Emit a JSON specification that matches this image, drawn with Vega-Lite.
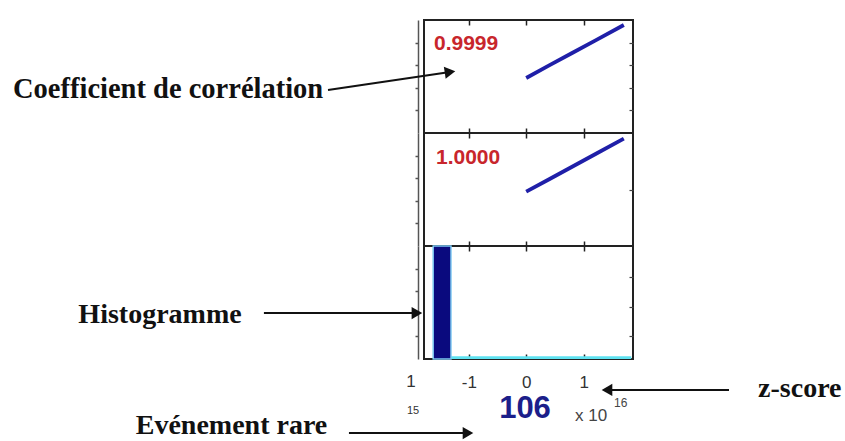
{
  "$schema": "https://vega.github.io/schema/vega-lite/v6.json",
  "padding": 0,
  "background": "white",
  "spacing": 0,
  "bounds": "flush",
  "config": {
    "view": {"stroke": "#222", "strokeWidth": 2},
    "axis": {"grid": false, "title": null}
  },
  "datasets": {
    "corr1": [{"z": 0, "r": 0.487}, {"z": 0.4, "r": 0.598}, {"z": 0.8, "r": 0.708}, {"z": 1.2, "r": 0.818}, {"z": 1.7, "r": 0.956}],
    "corr2": [{"z": 0, "r": 0.481}, {"z": 0.4, "r": 0.591}, {"z": 0.8, "r": 0.701}, {"z": 1.2, "r": 0.812}, {"z": 1.7, "r": 0.95}],
    "hist": [
      {"series": "rare", "bin_start": -1.62, "bin_end": -1.31, "count": 1},
      {"series": "normal", "bin_start": -1.31, "bin_end": 1.83, "count": 0.025}
    ],
    "one": [{}]
  },
  "vconcat": [
    {
      "width": 209,
      "height": 113,
      "layer": [
        {
          "data": {"name": "one"},
          "mark": {"type": "rule", "stroke": "#ffffff", "strokeOpacity": 0},
          "encoding": {
            "x": {"datum": -9.147, "type": "quantitative", "axis": null},
            "x2": {"datum": 5.569},
            "y": {"datum": 1.168, "type": "quantitative", "axis": null},
            "y2": {"datum": -2.735}
          }
        },
        {
          "data": {"name": "corr1"},
          "mark": {"type": "line", "color": "#1f1fa8", "strokeWidth": 3.8},
          "encoding": {
            "x": {"field": "z", "type": "quantitative", "scale": {"domain": [-1.78, 1.86], "nice": false, "zero": false},
              "axis": {"orient": "bottom", "values": [-1, 0, 1], "labels": false, "domain": false, "tickSize": -5, "tickColor": "#222", "tickWidth": 1.5}},
            "y": {"field": "r", "type": "quantitative", "scale": {"domain": [0, 1], "nice": false},
              "axis": {"orient": "left", "offset": 6, "values": [0.2, 0.4, 0.6, 0.8], "labels": false, "domain": true, "domainColor": "#555", "domainWidth": 1.5, "tickSize": 3, "tickColor": "#555", "tickWidth": 1.5}}
          }
        },
        {
          "data": {"name": "one"},
          "mark": {"type": "text", "text": "0.9999", "color": "#c8262c", "font": "Liberation Sans", "fontSize": 21, "fontWeight": "bold", "align": "left", "baseline": "middle"},
          "encoding": {
            "x": {"datum": -1.606, "type": "quantitative",
              "axis": {"orient": "top", "values": [-1, 0, 1], "labels": false, "domain": false, "tickSize": -5, "tickColor": "#222", "tickWidth": 1.5}},
            "y": {"datum": 0.792, "type": "quantitative",
              "axis": {"orient": "right", "values": [0.2, 0.4, 0.6, 0.8], "labels": false, "domain": false, "tickSize": -4, "tickColor": "#444", "tickWidth": 1.2}}
          }
        },
        {
          "data": {"name": "one"},
          "mark": {"type": "text", "text": "Coefficient de corrélation", "font": "Liberation Serif", "fontSize": 28.5, "fontWeight": "bold", "color": "#111", "align": "left", "baseline": "alphabetic"},
          "encoding": {
            "x": {"datum": -8.938, "type": "quantitative", "axis": null},
            "y": {"datum": 0.31, "type": "quantitative", "axis": null}
          }
        },
        {
          "data": {"name": "one"},
          "mark": {"type": "rule", "color": "#111", "strokeWidth": 2},
          "encoding": {
            "x": {"datum": -3.452, "type": "quantitative", "axis": null},
            "x2": {"datum": -1.327},
            "y": {"datum": 0.381, "type": "quantitative", "axis": null},
            "y2": {"datum": 0.54}
          }
        },
        {
          "data": {"name": "one"},
          "mark": {"type": "point", "shape": "triangle-right", "angle": -8.5, "size": 150, "filled": true, "color": "#111", "opacity": 1},
          "encoding": {
            "x": {"datum": -1.327, "type": "quantitative", "axis": null},
            "y": {"datum": 0.54, "type": "quantitative", "axis": null}
          }
        }
      ],
      "resolve": {"axis": {"x": "independent", "y": "independent"}}
    },
    {
      "width": 209,
      "height": 113,
      "layer": [
        {
          "data": {"name": "corr2"},
          "mark": {"type": "line", "color": "#1f1fa8", "strokeWidth": 3.8},
          "encoding": {
            "x": {"field": "z", "type": "quantitative", "scale": {"domain": [-1.78, 1.86], "nice": false, "zero": false},
              "axis": {"orient": "bottom", "values": [-1, 0, 1], "labels": false, "domain": false, "tickSize": -5, "tickColor": "#222", "tickWidth": 1.5}},
            "y": {"field": "r", "type": "quantitative", "scale": {"domain": [0, 1], "nice": false},
              "axis": {"orient": "left", "offset": 6, "values": [0.2, 0.4, 0.6, 0.8], "labels": false, "domain": true, "domainColor": "#555", "domainWidth": 1.5, "tickSize": 3, "tickColor": "#555", "tickWidth": 1.5}}
          }
        },
        {
          "data": {"name": "one"},
          "mark": {"type": "text", "text": "1.0000", "color": "#c8262c", "font": "Liberation Sans", "fontSize": 21, "fontWeight": "bold", "align": "left", "baseline": "middle"},
          "encoding": {
            "x": {"datum": -1.571, "type": "quantitative",
              "axis": {"orient": "top", "values": [-1, 0, 1], "labels": false, "domain": false, "tickSize": -5, "tickColor": "#222", "tickWidth": 1.5}},
            "y": {"datum": 0.779, "type": "quantitative",
              "axis": {"orient": "right", "values": [0.5], "labels": false, "domain": false, "tickSize": -4, "tickColor": "#444", "tickWidth": 1.2}}
          }
        }
      ],
      "resolve": {"axis": {"x": "independent", "y": "independent"}}
    },
    {
      "width": 209,
      "height": 113,
      "layer": [
        {
          "data": {"name": "hist"},
          "transform": [{"filter": "datum.series === 'normal'"}],
          "mark": {"type": "rect", "color": "#5ee2f0"},
          "encoding": {
            "x": {"field": "bin_start", "type": "quantitative", "scale": {"domain": [-1.78, 1.86], "nice": false, "zero": false},
              "axis": {"orient": "bottom", "values": [-1, 0, 1], "labels": true, "labelExpr": "replace(datum.label, '\u2212', '-')", "labelFont": "Liberation Sans", "labelFontSize": 17, "labelColor": "#333", "labelPadding": 20, "domain": false, "tickSize": -5, "tickColor": "#222", "tickWidth": 1.5}},
            "x2": {"field": "bin_end"},
            "y": {"field": "count", "type": "quantitative", "scale": {"domain": [0, 1], "nice": false},
              "axis": {"orient": "left", "offset": 6, "values": [0.2, 0.4, 0.6, 0.8], "labels": false, "domain": true, "domainColor": "#555", "domainWidth": 1.5, "tickSize": 3, "tickColor": "#555", "tickWidth": 1.5}},
            "y2": {"datum": 0}
          }
        },
        {
          "data": {"name": "hist"},
          "transform": [{"filter": "datum.series === 'rare'"}],
          "mark": {"type": "rect", "color": "#0a0a7e", "stroke": "#7cc8f2", "strokeWidth": 1.5},
          "encoding": {
            "x": {"field": "bin_start", "type": "quantitative", "axis": null},
            "x2": {"field": "bin_end"},
            "y": {"field": "count", "type": "quantitative", "axis": null},
            "y2": {"datum": 0}
          }
        },
        {
          "data": {"name": "one"},
          "mark": {"type": "text", "text": "Histogramme", "font": "Liberation Serif", "fontSize": 28, "fontWeight": "bold", "color": "#111", "align": "left", "baseline": "alphabetic"},
          "encoding": {
            "x": {"datum": -7.8, "type": "quantitative",
              "axis": {"orient": "top", "values": [-1, 0, 1], "labels": false, "domain": false, "tickSize": -5, "tickColor": "#222", "tickWidth": 1.5}},
            "y": {"datum": 0.319, "type": "quantitative",
              "axis": {"orient": "right", "values": [0.2, 0.46, 0.73], "labels": false, "domain": false, "tickSize": -4, "tickColor": "#444", "tickWidth": 1.2}}
          }
        },
        {
          "data": {"name": "one"},
          "mark": {"type": "rule", "color": "#111", "strokeWidth": 2},
          "encoding": {
            "x": {"datum": -4.568, "type": "quantitative", "axis": null},
            "x2": {"datum": -1.903},
            "y": {"datum": 0.407, "type": "quantitative", "axis": null},
            "y2": {"datum": 0.407}
          }
        },
        {
          "data": {"name": "one"},
          "mark": {"type": "point", "shape": "triangle-right", "size": 150, "filled": true, "color": "#111", "opacity": 1},
          "encoding": {
            "x": {"datum": -1.903, "type": "quantitative", "axis": null},
            "y": {"datum": 0.407, "type": "quantitative", "axis": null}
          }
        },
        {
          "data": {"name": "one"},
          "mark": {"type": "text", "text": "z-score", "font": "Liberation Serif", "fontSize": 28, "fontWeight": "bold", "color": "#111", "align": "left", "baseline": "alphabetic"},
          "encoding": {
            "x": {"datum": 4.038, "type": "quantitative", "axis": null},
            "y": {"datum": -0.336, "type": "quantitative", "axis": null}
          }
        },
        {
          "data": {"name": "one"},
          "mark": {"type": "rule", "color": "#111", "strokeWidth": 2},
          "encoding": {
            "x": {"datum": 3.532, "type": "quantitative", "axis": null},
            "x2": {"datum": 1.407},
            "y": {"datum": -0.274, "type": "quantitative", "axis": null},
            "y2": {"datum": -0.274}
          }
        },
        {
          "data": {"name": "one"},
          "mark": {"type": "point", "shape": "triangle-left", "size": 150, "filled": true, "color": "#111", "opacity": 1},
          "encoding": {
            "x": {"datum": 1.407, "type": "quantitative", "axis": null},
            "y": {"datum": -0.274, "type": "quantitative", "axis": null}
          }
        },
        {
          "data": {"name": "one"},
          "mark": {"type": "text", "text": "Evénement rare", "font": "Liberation Serif", "fontSize": 28, "fontWeight": "bold", "color": "#111", "align": "left", "baseline": "alphabetic"},
          "encoding": {
            "x": {"datum": -6.8, "type": "quantitative", "axis": null},
            "y": {"datum": -0.665, "type": "quantitative", "axis": null}
          }
        },
        {
          "data": {"name": "one"},
          "mark": {"type": "rule", "color": "#111", "strokeWidth": 2},
          "encoding": {
            "x": {"datum": -3.087, "type": "quantitative", "axis": null},
            "x2": {"datum": -1.014},
            "y": {"datum": -0.655, "type": "quantitative", "axis": null},
            "y2": {"datum": -0.655}
          }
        },
        {
          "data": {"name": "one"},
          "mark": {"type": "point", "shape": "triangle-right", "size": 150, "filled": true, "color": "#111", "opacity": 1},
          "encoding": {
            "x": {"datum": -1.014, "type": "quantitative", "axis": null},
            "y": {"datum": -0.655, "type": "quantitative", "axis": null}
          }
        },
        {
          "data": {"name": "one"},
          "mark": {"type": "text", "text": "106", "font": "Liberation Sans", "fontSize": 31, "fontWeight": "bold", "color": "#1c1f8a", "align": "center", "baseline": "middle"},
          "encoding": {
            "x": {"datum": -0.021, "type": "quantitative", "axis": null},
            "y": {"datum": -0.442, "type": "quantitative", "axis": null}
          }
        },
        {
          "data": {"name": "one"},
          "mark": {"type": "text", "text": "x 10", "font": "Liberation Sans", "fontSize": 17, "color": "#444", "align": "left", "baseline": "middle"},
          "encoding": {
            "x": {"datum": 0.85, "type": "quantitative", "axis": null},
            "y": {"datum": -0.504, "type": "quantitative", "axis": null}
          }
        },
        {
          "data": {"name": "one"},
          "mark": {"type": "text", "text": "16", "font": "Liberation Sans", "fontSize": 12, "color": "#444", "align": "left", "baseline": "middle"},
          "encoding": {
            "x": {"datum": 1.53, "type": "quantitative", "axis": null},
            "y": {"datum": -0.389, "type": "quantitative", "axis": null}
          }
        },
        {
          "data": {"name": "one"},
          "mark": {"type": "text", "text": "1", "font": "Liberation Sans", "fontSize": 17, "color": "#333", "align": "center", "baseline": "middle"},
          "encoding": {
            "x": {"datum": -2.006, "type": "quantitative", "axis": null},
            "y": {"datum": -0.204, "type": "quantitative", "axis": null}
          }
        },
        {
          "data": {"name": "one"},
          "mark": {"type": "text", "text": "15", "font": "Liberation Sans", "fontSize": 11, "color": "#333", "align": "center", "baseline": "middle"},
          "encoding": {
            "x": {"datum": -1.971, "type": "quantitative", "axis": null},
            "y": {"datum": -0.46, "type": "quantitative", "axis": null}
          }
        }
      ],
      "resolve": {"axis": {"x": "independent", "y": "independent"}}
    }
  ]
}
